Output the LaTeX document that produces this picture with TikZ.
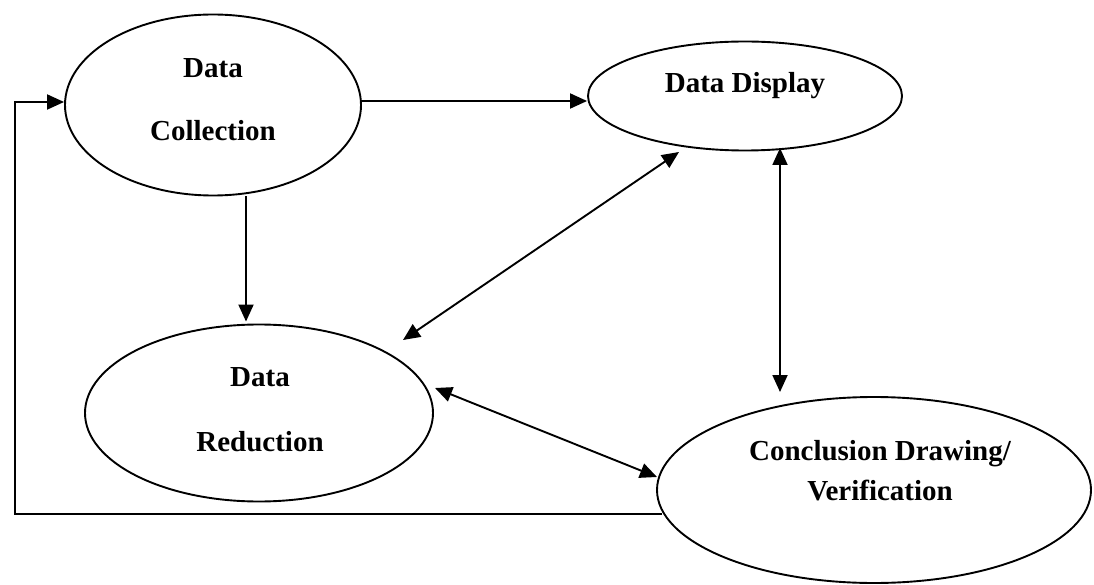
\documentclass[tikz,border=0pt]{standalone}
\usepackage{fontspec}
\setmainfont{Liberation Serif}
\usetikzlibrary{shapes.geometric,arrows.meta,calc}

\begin{document}
\begin{tikzpicture}[x=1pt,y=-1pt,
  stage/.style={ellipse,draw,line width=1.9pt,inner sep=0pt},
  caption/.style={anchor=base,inner sep=0pt,font=\fontsize{29}{34}\selectfont\bfseries},
  link/.style={line width=1.9pt,-{Triangle[length=17pt,width=15pt]}},
  dlink/.style={line width=1.9pt,{Triangle[length=17pt,width=15pt]}-{Triangle[length=17pt,width=15pt]}}
]
\useasboundingbox (0,0) rectangle (1094,585);

% the four stages
\node[stage,minimum width=296pt,minimum height=181pt] (dc) at (213,105) {};
\node[stage,minimum width=314pt,minimum height=109pt] (dd) at (745,96) {};
\node[stage,minimum width=348pt,minimum height=177pt] (dr) at (259,413) {};
\node[stage,minimum width=434pt,minimum height=186pt] (cd) at (874,490) {};

% stage captions
\node[caption] (dc1) at (213,78) {Data};
\node[caption] (dc2) at (213,141) {Collection};
\node[caption] (dd1) at (745,93) {Data Display};
\node[caption] (dr1) at (260,386) {Data};
\node[caption] (dr2) at (260,451) {Reduction};
\node[caption] (cd1) at (880,460) {Conclusion Drawing/};
\node[caption] (cd2) at (880,500) {Verification};

% collection feeds display and reduction
\coordinate (dcout) at ([yshift=4pt]dc.east);
\draw[link] (dcout) -- (dcout -| dd.west);
\draw[link] ([xshift=33pt]dc.south) -- ([xshift=33pt,yshift=2pt]dc.south |- dr.north);

% two-way links between display, reduction and conclusion
\coordinate (ddlow) at ($(dd.center)+(-66,56)$);
\coordinate (drup) at ($(dr.center)+(144,-73)$);
\draw[dlink] (ddlow) -- (drup);

\coordinate (ddbot) at ($(dd.center)+(35,52)$);
\coordinate (cdtop) at ($(cd.center)+(-94,-98)$);
\draw[dlink] (ddbot) -- (cdtop);

\coordinate (drright) at ($(dr.center)+(176,-25)$);
\coordinate (cdleft) at ($(cd.center)+(-217,-13)$);
\draw[dlink] (drright) -- (cdleft);

% feedback loop from conclusion back to collection
\coordinate (cdfeed) at ($(cd.center)+(-212,24)$);
\coordinate (loopbot) at (15,514);
\coordinate (dcin) at ([yshift=3pt]dc.west);
\draw[link] (cdfeed) -- (loopbot) -- (loopbot |- dcin) -- (dcin);
\end{tikzpicture}
\end{document}
